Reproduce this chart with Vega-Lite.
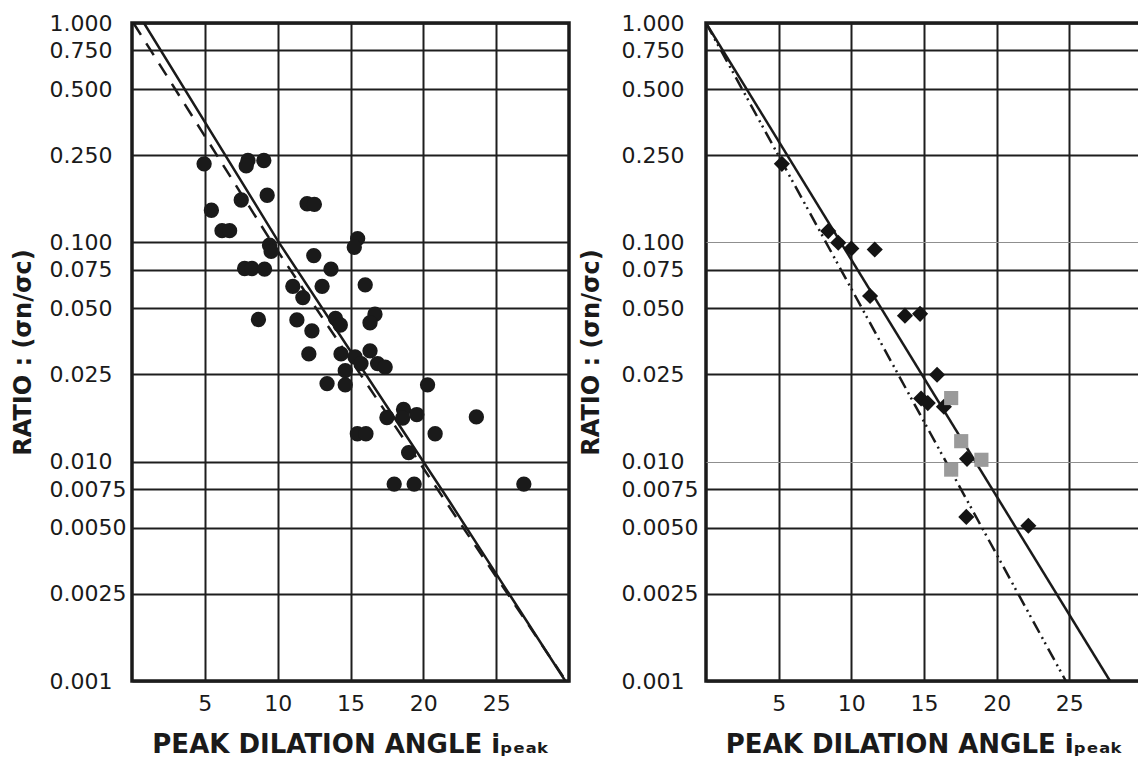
{
  "$schema": "https://vega.github.io/schema/vega-lite/v6.json",
  "background": "white",
  "padding": {"left": 9, "top": 10, "right": 0, "bottom": 0},
  "config": {
    "font": "DejaVu Sans",
    "view": {"stroke": "#1a1a1a", "strokeWidth": 3.5},
    "axis": {
      "grid": true,
      "gridColor": "#1e1e1e",
      "gridWidth": 2,
      "gridOpacity": 1,
      "domain": false,
      "ticks": false,
      "tickSize": 0,
      "labelFont": "DejaVu Sans",
      "labelFontSize": 22,
      "labelColor": "#1a1a1a",
      "labelOverlap": false,
      "labelBound": false,
      "labelFlush": false,
      "titleFont": "DejaVu Sans",
      "titleFontSize": 24,
      "titleFontWeight": "bold",
      "titleColor": "#1a1a1a"
    }
  },
  "datasets": {
    "joints": [
      {"angle": 4.95, "ratio": 0.228}, {"angle": 7.96, "ratio": 0.236}, {"angle": 7.84, "ratio": 0.223},
      {"angle": 9.05, "ratio": 0.236}, {"angle": 7.5, "ratio": 0.156}, {"angle": 9.28, "ratio": 0.164},
      {"angle": 5.45, "ratio": 0.14}, {"angle": 6.18, "ratio": 0.113}, {"angle": 6.7, "ratio": 0.113},
      {"angle": 12.02, "ratio": 0.15}, {"angle": 12.52, "ratio": 0.149}, {"angle": 9.44, "ratio": 0.097},
      {"angle": 9.55, "ratio": 0.091}, {"angle": 7.73, "ratio": 0.076}, {"angle": 8.23, "ratio": 0.076},
      {"angle": 9.1, "ratio": 0.0755}, {"angle": 12.48, "ratio": 0.087}, {"angle": 13.66, "ratio": 0.0755},
      {"angle": 15.49, "ratio": 0.104}, {"angle": 15.26, "ratio": 0.095}, {"angle": 11.04, "ratio": 0.063},
      {"angle": 13.05, "ratio": 0.063}, {"angle": 11.73, "ratio": 0.056}, {"angle": 16.01, "ratio": 0.064},
      {"angle": 8.68, "ratio": 0.0445}, {"angle": 11.32, "ratio": 0.0443}, {"angle": 12.35, "ratio": 0.0395},
      {"angle": 13.97, "ratio": 0.045}, {"angle": 14.3, "ratio": 0.042}, {"angle": 16.68, "ratio": 0.047},
      {"angle": 16.34, "ratio": 0.043}, {"angle": 12.14, "ratio": 0.031}, {"angle": 14.35, "ratio": 0.031},
      {"angle": 15.31, "ratio": 0.03}, {"angle": 15.72, "ratio": 0.028}, {"angle": 16.34, "ratio": 0.032},
      {"angle": 16.86, "ratio": 0.028}, {"angle": 17.38, "ratio": 0.027}, {"angle": 14.64, "ratio": 0.026},
      {"angle": 13.39, "ratio": 0.0227}, {"angle": 14.64, "ratio": 0.0224}, {"angle": 20.29, "ratio": 0.0224},
      {"angle": 18.64, "ratio": 0.0173}, {"angle": 17.5, "ratio": 0.0159}, {"angle": 18.58, "ratio": 0.0158},
      {"angle": 19.55, "ratio": 0.0164}, {"angle": 23.64, "ratio": 0.016}, {"angle": 15.47, "ratio": 0.0134},
      {"angle": 16.06, "ratio": 0.0134}, {"angle": 20.81, "ratio": 0.0134}, {"angle": 18.99, "ratio": 0.011},
      {"angle": 18.0, "ratio": 0.0079}, {"angle": 19.37, "ratio": 0.0079}, {"angle": 26.9, "ratio": 0.0079}
    ],
    "jointFits": [
      {"fit": "solid", "angle": 0.82, "ratio": 1.0},
      {"fit": "solid", "angle": 10.08, "ratio": 0.1},
      {"fit": "solid", "angle": 21.8, "ratio": 0.00658},
      {"fit": "solid", "angle": 29.75, "ratio": 0.001},
      {"fit": "dashed", "angle": 0.1, "ratio": 1.0},
      {"fit": "dashed", "angle": 9.6, "ratio": 0.1},
      {"fit": "dashed", "angle": 29.8, "ratio": 0.001}
    ],
    "samples": [
      {"kind": "diamond", "angle": 5.22, "ratio": 0.228}, {"kind": "diamond", "angle": 8.41, "ratio": 0.1125},
      {"kind": "diamond", "angle": 9.1, "ratio": 0.0995}, {"kind": "diamond", "angle": 10.0, "ratio": 0.0937},
      {"kind": "diamond", "angle": 11.61, "ratio": 0.0927}, {"kind": "diamond", "angle": 11.29, "ratio": 0.0569},
      {"kind": "diamond", "angle": 13.69, "ratio": 0.0463}, {"kind": "diamond", "angle": 14.73, "ratio": 0.0472},
      {"kind": "diamond", "angle": 15.9, "ratio": 0.0249}, {"kind": "diamond", "angle": 14.8, "ratio": 0.0194},
      {"kind": "diamond", "angle": 15.26, "ratio": 0.0185}, {"kind": "diamond", "angle": 16.37, "ratio": 0.0178},
      {"kind": "diamond", "angle": 17.96, "ratio": 0.0103}, {"kind": "diamond", "angle": 17.91, "ratio": 0.0056},
      {"kind": "diamond", "angle": 22.18, "ratio": 0.0051},
      {"kind": "square", "angle": 16.87, "ratio": 0.0195}, {"kind": "square", "angle": 17.56, "ratio": 0.0124},
      {"kind": "square", "angle": 18.95, "ratio": 0.0102}, {"kind": "square", "angle": 16.87, "ratio": 0.0092}
    ],
    "sampleFits": [
      {"fit": "solid", "angle": 0.0, "ratio": 1.0},
      {"fit": "solid", "angle": 27.8, "ratio": 0.001},
      {"fit": "dashdot", "angle": 0.0, "ratio": 1.0},
      {"fit": "dashdot", "angle": 24.76, "ratio": 0.001}
    ]
  },
  "hconcat": [
    {
      "width": 437,
      "height": 658,
      "encoding": {
        "x": {
          "field": "angle", "type": "quantitative",
          "scale": {"domain": [0, 30], "nice": false, "zero": false},
          "axis": {"values": [5, 10, 15, 20, 25], "labelPadding": 12, "titlePadding": 17, "titleFontSize": 26, "title": "PEAK DILATION ANGLE iₚₑₐₖ"}
        },
        "y": {
          "field": "ratio", "type": "quantitative",
          "scale": {"type": "log", "domain": [0.001, 1], "nice": false},
          "axis": {
            "values": [0.001, 0.0025, 0.005, 0.0075, 0.01, 0.025, 0.05, 0.075, 0.1, 0.25, 0.5, 0.75, 1],
            "labelExpr": "datum.value >= 0.01 || datum.value <= 0.001 ? format(datum.value, '.3f') : format(datum.value, '.4f')",
            "labelAlign": "left",
            "labelPadding": 83,
            "titlePadding": 14,
            "title": "RATIO : (σn/σc)"
          }
        }
      },
      "layer": [
        {
          "data": {"name": "jointFits"},
          "transform": [{"filter": "datum.fit === 'solid'"}],
          "mark": {"type": "line", "clip": true, "strokeWidth": 2.5, "color": "#1a1a1a"}
        },
        {
          "data": {"name": "jointFits"},
          "transform": [{"filter": "datum.fit === 'dashed'"}],
          "mark": {"type": "line", "clip": true, "strokeWidth": 2.5, "color": "#1a1a1a", "strokeDash": [14, 10]}
        },
        {
          "data": {"name": "joints"},
          "mark": {"type": "point", "shape": "circle", "filled": true, "size": 235, "color": "#1a1a1a", "opacity": 1}
        }
      ]
    },
    {
      "width": 436,
      "height": 658,
      "encoding": {
        "x": {
          "field": "angle", "type": "quantitative",
          "scale": {"domain": [0, 30], "nice": false, "zero": false},
          "axis": {"values": [5, 10, 15, 20, 25], "labelPadding": 12, "titlePadding": 17, "titleFontSize": 26, "title": "PEAK DILATION ANGLE iₚₑₐₖ"}
        },
        "y": {
          "field": "ratio", "type": "quantitative",
          "scale": {"type": "log", "domain": [0.001, 1], "nice": false},
          "axis": {
            "values": [0.001, 0.0025, 0.005, 0.0075, 0.01, 0.025, 0.05, 0.075, 0.1, 0.25, 0.5, 0.75, 1],
            "labelExpr": "datum.value >= 0.01 || datum.value <= 0.001 ? format(datum.value, '.3f') : format(datum.value, '.4f')",
            "labelAlign": "left",
            "labelPadding": 85,
            "titlePadding": 18,
            "title": "RATIO : (σn/σc)",
            "gridColor": {"condition": {"test": "datum.value === 0.1 || datum.value === 0.01", "value": "#8f8f8f"}, "value": "#1e1e1e"},
            "gridWidth": {"condition": {"test": "datum.value === 0.1 || datum.value === 0.01", "value": 1.2}, "value": 2}
          }
        }
      },
      "layer": [
        {
          "data": {"name": "sampleFits"},
          "transform": [{"filter": "datum.fit === 'solid'"}],
          "mark": {"type": "line", "clip": true, "strokeWidth": 2.5, "color": "#1a1a1a"}
        },
        {
          "data": {"name": "sampleFits"},
          "transform": [{"filter": "datum.fit === 'dashdot'"}],
          "mark": {"type": "line", "clip": true, "strokeWidth": 2.5, "color": "#1a1a1a", "strokeDash": [13, 5, 2, 4, 2, 5]}
        },
        {
          "data": {"name": "samples"},
          "transform": [{"filter": "datum.kind === 'diamond'"}],
          "mark": {"type": "point", "shape": "diamond", "filled": true, "size": 260, "color": "#141414", "opacity": 1}
        },
        {
          "data": {"name": "samples"},
          "transform": [{"filter": "datum.kind === 'square'"}],
          "mark": {"type": "point", "shape": "square", "filled": true, "size": 200, "color": "#9a9a9a", "opacity": 1}
        }
      ]
    }
  ],
  "spacing": 137,
  "bounds": "flush"
}
